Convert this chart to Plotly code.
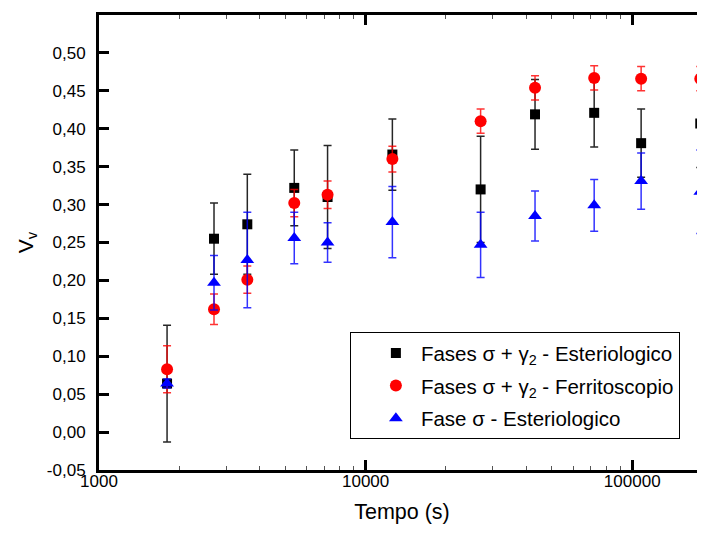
import plotly.graph_objects as go

# Tempo (s)
tempo = [1800, 2700, 3600, 5400, 7200, 12600, 27000, 43200, 72000, 108000, 180000]

# Fases sigma + gamma2 - Esteriologico
est_sg = [0.064, 0.255, 0.274, 0.322, 0.310, 0.366, 0.320, 0.419, 0.421, 0.381, 0.407]
est_sg_err = [0.077, 0.047, 0.066, 0.050, 0.068, 0.047, 0.070, 0.046, 0.045, 0.045, 0.058]

# Fases sigma + gamma2 - Ferritoscopio
fer_sg = [0.083, 0.162, 0.201, 0.302, 0.313, 0.360, 0.410, 0.454, 0.467, 0.466, 0.466]
fer_sg_err = [0.031, 0.020, 0.018, 0.018, 0.018, 0.017, 0.016, 0.016, 0.016, 0.016, 0.016]

# Fase sigma - Esteriologico
est_s = [0.064, 0.197, 0.227, 0.256, 0.250, 0.277, 0.247, 0.285, 0.299, 0.331, 0.317]
est_s_err = [0.006, 0.036, 0.063, 0.034, 0.026, 0.047, 0.043, 0.033, 0.034, 0.037, 0.055]

y_tick_vals = [-0.05, 0.00, 0.05, 0.10, 0.15, 0.20, 0.25, 0.30, 0.35, 0.40, 0.45, 0.50, 0.55]
y_tick_text = ["-0,05", "0,00", "0,05", "0,10", "0,15", "0,20", "0,25", "0,30",
               "0,35", "0,40", "0,45", "0,50", "0,55"]
x_tick_vals = [1000, 10000, 100000]
x_tick_text = ["1000", "10000", "100000"]
x_minor_vals = [2000, 3000, 4000, 5000, 6000, 7000, 8000, 9000,
                20000, 30000, 40000, 50000, 60000, 70000, 80000, 90000]

FONT = "Liberation Sans, Arial, sans-serif"

fig = go.Figure()
fig.add_trace(go.Scatter(
    x=tempo, y=est_sg, mode="markers", legendgroup="a",
    name="Fases σ + γ<sub>2</sub> - Esteriologico",
    marker=dict(symbol="square", size=10, color="black"),
    error_y=dict(type="data", array=est_sg_err, color="rgba(0,0,0,0.85)", thickness=1.5, width=4),
    cliponaxis=False,
))
fig.add_trace(go.Scatter(
    x=tempo, y=fer_sg, mode="markers", legendgroup="b",
    name="Fases σ + γ<sub>2</sub> - Ferritoscopio",
    marker=dict(symbol="circle", size=12, color="#ff0000"),
    error_y=dict(type="data", array=fer_sg_err, color="rgba(255,0,0,0.8)", thickness=1.5, width=4),
    cliponaxis=False,
))
fig.add_trace(go.Scatter(
    x=tempo, y=est_s, mode="markers", legendgroup="c",
    name="Fase σ - Esteriologico",
    marker=dict(symbol="triangle-up", size=12, color="#0000ff"),
    error_y=dict(type="data", array=est_s_err, color="rgba(0,0,255,0.8)", thickness=1.5, width=4),
    cliponaxis=False,
))

fig.update_layout(
    width=697, height=516,
    margin=dict(l=91, r=0, t=7, b=54, autoexpand=False),
    paper_bgcolor="white", plot_bgcolor="white",
    font=dict(family=FONT, size=17, color="black"),
    showlegend=True,
    legend=dict(
        x=0.414, y=0.303, xanchor="left", yanchor="top",
        bgcolor="white", bordercolor="black", borderwidth=1,
        font=dict(family=FONT, size=20.5, color="black"),
        traceorder="grouped", tracegroupgap=3,
        indentation=20, itemwidth=40,
    ),
    xaxis=dict(
        type="log", range=[3, 5.273], automargin=False,
        showline=True, linecolor="black", linewidth=3, mirror="ticks",
        ticks="inside", ticklen=10, tickwidth=3, tickcolor="black",
        tickmode="array", tickvals=x_tick_vals, ticktext=x_tick_text,
        showgrid=False, zeroline=False, ticklabelstandoff=-6,
        minor=dict(ticks="inside", ticklen=4, tickwidth=1, tickcolor="#555",
                   tickmode="array", tickvals=x_minor_vals, showgrid=False),
        title=dict(text="Tempo (s)", font=dict(size=21.5), standoff=26),
        tickfont=dict(size=17),
    ),
    yaxis=dict(
        range=[-0.05, 0.55], automargin=False,
        showline=True, linecolor="black", linewidth=3, mirror=False,
        ticks="inside", ticklen=10, tickwidth=3, tickcolor="black",
        tickmode="array", tickvals=y_tick_vals, ticktext=y_tick_text,
        showgrid=False, zeroline=False, ticklabelstandoff=7,
        title=dict(text="V<sub>v</sub>", font=dict(size=21), standoff=8),
        tickfont=dict(size=17),
    ),
    yaxis2=dict(
        overlaying="y", side="right", anchor="x", automargin=False,
        range=[-0.05, 0.55], showline=False,
        ticks="inside", ticklen=10, tickwidth=3, tickcolor="black",
        tickmode="array", tickvals=y_tick_vals, showticklabels=False,
        showgrid=False, zeroline=False,
    ),
)

fig.write_html("out.html")
